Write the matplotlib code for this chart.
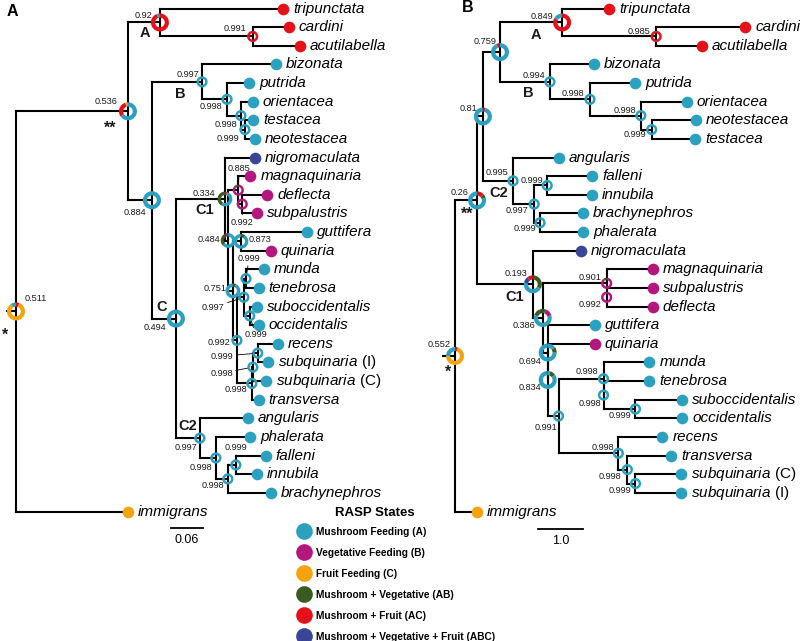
import matplotlib
matplotlib.use("Agg")
import matplotlib.pyplot as plt
import matplotlib.transforms as mtransforms
from matplotlib.patches import Wedge
from matplotlib.lines import Line2D

plt.rcParams['font.family'] = 'Liberation Sans'
plt.rcParams['mathtext.fontset'] = 'custom'
plt.rcParams['mathtext.it'] = 'Liberation Sans:italic'
plt.rcParams['mathtext.rm'] = 'Liberation Sans'

# ---- data -------------------------------------------------------------
state_colors = {'A': '#2ba1bf', 'B': '#b3177e', 'C': '#f5a30c',
                'AB': '#3a5a20', 'AC': '#e4111b', 'ABC': '#394596'}
state_labels = ['Mushroom Feeding (A)', 'Vegetative Feeding (B)', 'Fruit Feeding (C)',
                'Mushroom + Vegetative (AB)', 'Mushroom + Fruit (AC)',
                'Mushroom + Vegetative + Fruit (ABC)']
state_keys = ['A', 'B', 'C', 'AB', 'AC', 'ABC']

# tree A (branch lengths in substitutions/site)
tree_A = ("(((tripunctata:0.231,(cardini:0.068,acutilabella:0.088)a1:0.174)cA:0.06,"
          "((bizonata:0.139,(putrida:0.041,(orientacea:0.0225,(testacea:0.015,neotestacea:0.019)b3:0.0075)b2:0.026)b1:0.047)cB:0.094,"
          "((nigromaculata:0.056,((magnaquinaria:0.0225,(deflecta:0.047,subpalustris:0.028)c992:0.0075)c885:0.019,"
          "((guttifera:0.124,quinaria:0.056)c873:0.015,(((munda:0.034,tenebrosa:0.024)m1:0.004,"
          "(suboccidentalis:0.013,occidentalis:0.017)o1:0.011)c997:0.013,"
          "(((recens:0.0375,subquinaria_I:0.019)r3:0.009,subquinaria_C:0.024)r2:0.002,transversa:0.013)r1:0.028)c992b:0.0075)c751:0.009)c484:0.006)cC1:0.092,"
          "(angularis:0.09,(phalerata:0.064,((falleni:0.056,innubila:0.039)d3:0.015,brachynephros:0.081)d2:0.0225)d1:0.03)cC2:0.045)cC:0.045)c884:0.045)ss:0.21,"
          "immigrans:0.21)rA:0.016;")

# tree B (time tree, scale 1.0)
tree_B = ("(((((tripunctata:1.04,(cardini:1.98,acutilabella:1.02)e1:2.09)bA:1.38,"
          "(bizonata:0.98,(putrida:1.0,(orientacea:1.02,(neotestacea:0.98,testacea:0.96)f3:0.24)f2:1.13)f1:0.89)bB:1.11)n759:0.38,"
          "(angularis:1.02,((falleni:1.0,innubila:1.0)g2:0.29,(brachynephros:0.96,phalerata:0.96)g3:0.13)g1:0.47)bC2:0.67)n081:0.13,"
          "(nigromaculata:1.07,((magnaquinaria:1.02,(subpalustris:1.02,deflecta:1.02)h992:0.0)h901:1.42,"
          "(guttifera:1.04,(quinaria:1.04,((munda:1.02,(tenebrosa:1.02,(suboccidentalis:1.04,occidentalis:1.04)p3:0.71)p2:0.0)p1:1.0,"
          "(recens:0.98,(transversa:0.98,(subquinaria_C:1.02,subquinaria_I:1.02)q3:0.18)q2:0.2)q1:1.33)h991:0.24)h834:0.0)h694:0.11)h386:0.22)bC1:1.24)n026:0.49,"
          "immigrans:0.49)rB:0.27;")

support_A = {'rA': 0.511, 'ss': 0.536, 'cA': 0.92, 'a1': 0.991, 'c884': 0.884, 'cB': 0.997,
             'b1': 0.998, 'b2': 0.998, 'b3': 0.999, 'cC': 0.494, 'cC1': 0.334, 'c484': 0.484,
             'c885': 0.885, 'c992': 0.992, 'c751': 0.751, 'c873': 0.873, 'c992b': 0.992,
             'c997': 0.997, 'm1': 0.999, 'o1': 0.999, 'r1': 0.998, 'r2': 0.998, 'r3': 0.999,
             'cC2': 0.997, 'd1': 0.998, 'd2': 0.998, 'd3': 0.999}
support_B = {'rB': 0.552, 'n026': 0.26, 'n081': 0.81, 'n759': 0.759, 'bA': 0.849, 'e1': 0.985,
             'bB': 0.994, 'f1': 0.998, 'f2': 0.998, 'f3': 0.999, 'bC2': 0.995, 'g1': 0.997,
             'g2': 0.999, 'g3': 0.999, 'bC1': 0.193, 'h386': 0.386, 'h901': 0.901, 'h992': 0.992,
             'h694': 0.694, 'h834': 0.834, 'h991': 0.991, 'p1': 0.998, 'p2': 0.998, 'p3': 0.999,
             'q1': 0.998, 'q2': 0.998, 'q3': 0.999}

# ancestral state probabilities (counter-clockwise from top); others are 100% A
pies_A = {'rA': [('A', 0.1), ('C', 0.84), ('AC', 0.06)],
          'ss': [('C', 0.05), ('AC', 0.3), ('A', 0.65)],
          'cA': [('A', 0.06), ('AC', 0.94)],
          'a1': [('AC', 1.0)],
          'cC1': [('AB', 0.42), ('A', 0.53), ('AC', 0.05)],
          'c885': [('AB', 0.14), ('B', 0.86)],
          'c992': [('B', 1.0)],
          'c484': [('B', 0.07), ('AB', 0.3), ('A', 0.63)],
          'c873': [('A', 0.9), ('AB', 0.1)],
          'c751': [('A', 0.93), ('AB', 0.07)]}
pies_B = {'rB': [('A', 0.25), ('C', 0.7), ('AC', 0.05)],
          'n026': [('A', 0.8), ('AB', 0.07), ('AC', 0.13)],
          'n081': [('A', 0.95), ('AC', 0.05)],
          'n759': [('AC', 0.07), ('A', 0.93)],
          'bA': [('A', 0.17), ('AC', 0.83)],
          'e1': [('AC', 1.0)],
          'bC1': [('AC', 0.1), ('ABC', 0.12), ('A', 0.45), ('AB', 0.33)],
          'h386': [('AB', 0.2), ('A', 0.6), ('B', 0.15), ('AB', 0.05)],
          'h901': [('AB', 0.1), ('B', 0.9)],
          'h992': [('B', 1.0)],
          'h694': [('A', 0.75), ('AB', 0.1), ('A', 0.15)],
          'h834': [('A', 0.85), ('AB', 0.1), ('A', 0.05)]}

tip_state = {'tripunctata': 'AC', 'cardini': 'AC', 'acutilabella': 'AC', 'nigromaculata': 'ABC',
             'magnaquinaria': 'B', 'deflecta': 'B', 'subpalustris': 'B', 'quinaria': 'B',
             'immigrans': 'C'}

# ---- style ------------------------------------------------------------
ring_size = {'L': (9.0, 4.2), 'M': (7.4, 3.4), 'S': (5.6, 2.5)}
size_A = {'rA': 'L', 'ss': 'L', 'cA': 'L', 'c884': 'L', 'cC': 'L',
          'cC1': 'M', 'c484': 'M', 'c751': 'M', 'c873': 'M'}
size_B = {'rB': 'L', 'n026': 'L', 'n081': 'L', 'n759': 'L', 'bA': 'L',
          'bC1': 'L', 'h386': 'L', 'h694': 'L', 'h834': 'L'}

# support label offsets in pixels (dx, dy up, ha)
lab_A = {'rA': (9, 13, 'left'), 'ss': (-10, 10, 'right'), 'cA': (-8, 7, 'right'),
         'a1': (-6, 8, 'right'), 'cB': (-3, 7, 'right'), 'b1': (-5, -7, 'right'),
         'b2': (-4, -9, 'right'), 'b3': (-6, -9, 'right'), 'c884': (-6, -12, 'right'),
         'cC': (-10, -9, 'right'), 'cC1': (-10, 6, 'right'), 'c885': (1, 22, 'center'),
         'c992': (0, -18, 'center'), 'c484': (-8, 1, 'right'), 'c873': (8, 2, 'left'),
         'm1': (3, 20, 'center'), 'c751': (-6, 2, 'right'), 'c997': (-19, -10, 'right'),
         'o1': (6, -19, 'center'), 'c992b': (-7, -2, 'right'), 'r3': (-24, -3, 'right'),
         'r2': (-20, -6, 'right'), 'r1': (-5, -6, 'right'), 'cC2': (-3, -9, 'right'),
         'd1': (-4, -10, 'right'), 'd3': (0, 17, 'center'), 'd2': (-4, -7, 'right')}
lead_A = ['c885', 'c992', 'm1', 'c997', 'o1', 'r3', 'r2', 'd3']
lab_B = {'rB': (-4, 11, 'right'), 'n026': (-9, 8, 'right'), 'n081': (-6, 8, 'right'),
         'n759': (-4, 11, 'right'), 'bA': (-9, 6, 'right'), 'e1': (-6, 5, 'right'),
         'bB': (-5, 6, 'right'), 'f1': (-6, 6, 'right'), 'f2': (-5, 5, 'right'),
         'f3': (-5, -5, 'right'), 'bC2': (-5, 8, 'right'), 'g2': (-4, 5, 'right'),
         'g1': (-6, -6, 'right'), 'g3': (-4, -6, 'right'), 'bC1': (-5, 11, 'right'),
         'h901': (-5, 6, 'right'), 'h992': (-5, -7, 'right'), 'h386': (-7, -8, 'right'),
         'h694': (-6, -9, 'right'), 'h834': (-6, -8, 'right'), 'h991': (-1, -11, 'right'),
         'p1': (-5, 7, 'right'), 'p2': (-2, -8, 'right'), 'p3': (-4, -6, 'right'),
         'q1': (-4, 6, 'right'), 'q2': (-6, -7, 'right'), 'q3': (-4, -7, 'right')}

clade_A = {'cA': ('A', -15, -11), 'cB': ('B', -22, -12), 'ss': ('**', -18, -17),
           'cC': ('C', -14, 12), 'cC1': ('C1', -20, -11), 'cC2': ('C2', -12, 12),
           'rA': ('*', -11, -24)}
clade_B = {'bA': ('A', -26, -13), 'bB': ('B', -22, -11), 'bC2': ('C2', -14, -12),
           'bC1': ('C1', -18, -13), 'n026': ('**', -10, -14), 'rB': ('*', -7, -16)}

LW = 1.5
ROW = 18.63  # pixels between tips
TOP = 8.5


def parse_newick(s):
    pos = 0

    def read():
        nonlocal pos
        kids = []
        if s[pos] == '(':
            pos += 1
            kids.append(read())
            while s[pos] == ',':
                pos += 1
                kids.append(read())
            pos += 1
        start = pos
        while s[pos] not in ',():;':
            pos += 1
        name = s[start:pos]
        length = 0.0
        if s[pos] == ':':
            pos += 1
            start = pos
            while s[pos] not in ',();':
                pos += 1
            length = float(s[start:pos])
        return {'name': name, 'len': length, 'kids': kids}

    return read()


def place(node, x0, tips, allnodes):
    node['x'] = x0 + node['len']
    allnodes.append(node)
    if node['kids']:
        for k in node['kids']:
            place(k, node['x'], tips, allnodes)
        node['y'] = (node['kids'][0]['y'] + node['kids'][-1]['y']) / 2
    else:
        node['y'] = len(tips)
        tips.append(node)


def draw_ring(ax, x, y, r, w, parts):
    trans = mtransforms.ScaledTranslation(x, y, ax.transData)
    start = 90.0
    for st, frac in parts:
        ang = frac * 360
        ax.add_patch(Wedge((0, 0), r, start, start + ang, width=w,
                           facecolor=state_colors[st], edgecolor='none',
                           transform=trans, zorder=4, clip_on=False))
        start += ang


def tip_text(name):
    if name.startswith('subquinaria_'):
        return r'$\mathit{subquinaria}$ (' + name[-1] + ')', 'normal'
    return name, 'italic'


def draw_tree(ax, newick, support, pies, sizes, labs, leads, clades):
    root = parse_newick(newick)
    tips, nodes = [], []
    place(root, -root['len'], tips, nodes)
    ax.plot([-root['len'], 0], [root['y'], root['y']], color='k', lw=LW, zorder=2)
    for n in nodes:
        if not n['kids']:
            continue
        ks = n['kids']
        ax.plot([n['x'], n['x']], [ks[0]['y'], ks[-1]['y']], color='k', lw=LW,
                zorder=2, solid_capstyle='projecting')
        for k in ks:
            ax.plot([n['x'], k['x']], [k['y'], k['y']], color='k', lw=LW, zorder=2)
    for t in tips:
        c = state_colors[tip_state.get(t['name'], 'A')]
        ax.plot(t['x'], t['y'], 'o', ms=8.4, color=c, mec='none', zorder=5, clip_on=False)
        txt, style = tip_text(t['name'])
        ax.annotate(txt, (t['x'], t['y']), xytext=(10, 0),
                    textcoords='offset pixels', ha='left', va='center',
                    fontsize=11, fontstyle=style)
    for n in nodes:
        if not n['kids']:
            continue
        nm = n['name']
        r, w = ring_size[sizes.get(nm, 'S')]
        draw_ring(ax, n['x'], n['y'], r, w, pies.get(nm, [('A', 1.0)]))
        dx, dy, ha = labs.get(nm, (-5, 6, 'right'))
        ap = None
        if nm in leads:
            ap = dict(arrowstyle='-', color='k', lw=0.6, shrinkA=0, shrinkB=r * 0.72)
        ax.annotate('%g' % support[nm], (n['x'], n['y']), xytext=(dx, dy),
                    textcoords='offset pixels', ha=ha, va='center', fontsize=6.6,
                    color='#1a1a1a', arrowprops=ap, zorder=6)
        if nm in clades:
            txt, cx, cy = clades[nm]
            ax.annotate(txt, (n['x'], n['y']), xytext=(cx, cy), textcoords='offset pixels',
                        ha='center', va='center', fontsize=11.5 if '*' in txt else 10.5,
                        fontweight='bold', color='#1a1a1a')
    return len(tips)


fig = plt.figure(figsize=(8, 6.41), dpi=100)
axA = fig.add_axes([0, 0, 0.5, 1])
axB = fig.add_axes([0.5, 0, 0.5, 1])

draw_tree(axA, tree_A, support_A, pies_A, size_A, lab_A, lead_A, clade_A)
draw_tree(axB, tree_B, support_B, pies_B, size_B, lab_B, [], clade_B)

# pixel-matched scales: A 533 px per unit, root at 16 px; B 45 px per unit, root at 455 px
axA.set_xlim(-16 / 533, 384 / 533)
axB.set_xlim(-55 / 45, 345 / 45)
for ax in (axA, axB):
    ax.set_ylim((641 - TOP) / ROW, -TOP / ROW)
    ax.axis('off')

# scale bars
axA.plot([0.291, 0.351], [27.9, 27.9], color='k', lw=1.3)
axA.text(0.321, 28.55, '0.06', ha='center', va='center', fontsize=9)
axB.plot([1.84, 2.84], [27.95, 27.95], color='k', lw=1.3)
axB.text(2.34, 28.6, '1.0', ha='center', va='center', fontsize=9)

fig.text(12 / 800, 1 - 12 / 641, 'A', fontsize=11.5, fontweight='bold', ha='center', va='center')
fig.text(468 / 800, 1 - 8 / 641, 'B', fontsize=11.5, fontweight='bold', ha='center', va='center')

handles = [Line2D([], [], ls='none', marker='o', ms=12, color=state_colors[k], mec='none')
           for k in state_keys]
fig.legend(handles, state_labels, loc='upper left', bbox_to_anchor=(299 / 800, 1 - 527 / 641),
           frameon=False, prop={'weight': 'bold', 'size': 7.3}, handlelength=1.0,
           handletextpad=0.7, labelspacing=1.08, borderpad=0, borderaxespad=0)
fig.text(375 / 800, 1 - 513 / 641, 'RASP States', fontsize=9.5, fontweight='bold',
         ha='center', va='center')

fig.savefig('out.png', dpi=100)
